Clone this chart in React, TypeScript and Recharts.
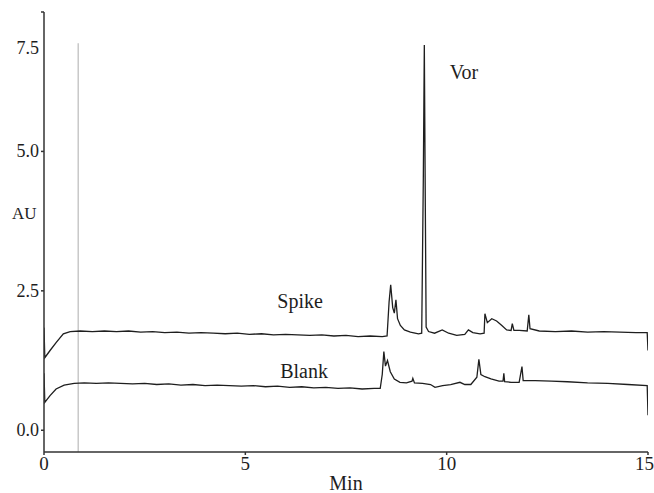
import React from 'react'
import { LineChart, Line, XAxis, YAxis, ReferenceLine, ReferenceDot } from 'recharts'

// retention time (min) and absorbance (AU)
const spikeTime = [
  0, 0.02, 0.15, 0.31, 0.48, 0.65, 0.9, 1.2, 1.5, 1.8, 2.1, 2.4, 2.7, 3.0, 3.3, 3.6, 3.9, 4.2, 4.5, 4.8,
  5.1, 5.4, 5.7, 6.0, 6.3, 6.6, 6.9, 7.2, 7.5, 7.8, 8.1, 8.4, 8.52, 8.57, 8.61, 8.66, 8.7, 8.74, 8.78,
  8.85, 8.95, 9.1, 9.3, 9.38, 9.42, 9.445, 9.47, 9.49, 9.55, 9.7, 9.89, 10.05, 10.25, 10.45, 10.54,
  10.65, 10.83, 10.93, 10.95, 11.01, 11.12, 11.24, 11.37, 11.49, 11.6, 11.63, 11.67, 11.8, 12.0, 12.04,
  12.07, 12.3, 12.7, 13.1, 13.5, 13.9, 14.3, 14.7, 14.98, 15.0,
]
const spikeAU = [
  1.84, 1.3, 1.43, 1.58, 1.73, 1.77, 1.78, 1.77, 1.78, 1.77, 1.78, 1.76, 1.77, 1.75, 1.76, 1.74, 1.75, 1.74, 1.73, 1.74,
  1.72, 1.73, 1.71, 1.72, 1.71, 1.7, 1.71, 1.69, 1.7, 1.68, 1.69, 1.68, 1.69, 2.3, 2.61, 2.2, 2.1, 2.34, 2.0,
  1.88, 1.8, 1.76, 1.73, 1.74, 4.5, 6.91, 4.0, 1.85, 1.77, 1.74, 1.8, 1.74, 1.7, 1.72, 1.8,
  1.75, 1.73, 1.74, 2.09, 1.93, 2.0, 1.96, 1.88, 1.8, 1.79, 1.91, 1.79, 1.79, 1.78, 2.07,
  1.82, 1.78, 1.77, 1.78, 1.76, 1.77, 1.76, 1.75, 1.75, 1.43,
]

const blankTime = [
  0, 0.02, 0.15, 0.3, 0.5, 0.75, 1.0, 1.3, 1.6, 1.9, 2.2, 2.5, 2.8, 3.1, 3.4, 3.7, 4.0, 4.3, 4.6, 4.9,
  5.2, 5.5, 5.8, 6.1, 6.4, 6.7, 7.0, 7.3, 7.6, 7.9, 8.2, 8.35, 8.4, 8.44, 8.48, 8.53, 8.6, 8.7, 8.84,
  9.0, 9.14, 9.16, 9.2, 9.4, 9.6, 9.71, 9.9, 10.1, 10.33, 10.45, 10.6, 10.75, 10.8, 10.85, 10.95, 11.1,
  11.3, 11.4, 11.42, 11.44, 11.6, 11.8, 11.87, 11.9, 12.2, 12.6, 13.0, 13.5, 14.0, 14.5, 14.98, 15.0,
]
const blankAU = [
  1.02, 0.5, 0.62, 0.74, 0.81, 0.84, 0.85, 0.84, 0.85, 0.84, 0.83, 0.84, 0.82, 0.83, 0.81, 0.82, 0.8, 0.81, 0.8, 0.79,
  0.8, 0.78, 0.79, 0.77, 0.78, 0.76, 0.77, 0.75, 0.76, 0.74, 0.75, 0.75, 1.0, 1.41, 1.15, 1.25, 1.05, 0.92, 0.86,
  0.85, 0.88, 0.93, 0.85, 0.84, 0.82, 0.77, 0.8, 0.82, 0.86, 0.82, 0.82, 0.95, 1.27, 1.0, 0.96, 0.92,
  0.88, 0.88, 1.02, 0.87, 0.86, 0.86, 1.14, 0.89, 0.89, 0.88, 0.87, 0.85, 0.84, 0.82, 0.8, 0.27,
]

const xTicks = [0, 5, 10, 15]
const yTicks = [0, 2.5, 5, 7.5]

const spike = spikeTime.map((t, i) => ({ t, v: spikeAU[i] }))
const blank = blankTime.map((t, i) => ({ t, v: blankAU[i] }))

const font = 'Liberation Serif'
const ink = '#1e1e1e'

function YTick(props: any) {
  const { x, y, payload } = props
  // the top label sits lower than its tick in the original figure
  const shift = payload.value === 7.5 ? 36 : 0
  return (
    <text x={x} y={y + shift} dy={6} textAnchor="end" fontSize={18} fill={ink} style={{ fontFamily: font }}>
      {payload.value.toFixed(1)}
    </text>
  )
}

const txt = (value: string) => ({ value, fontSize: 20, fill: ink, style: { fontFamily: font } })

export default function App() {
  return (
    <div style={{ background: '#fff', width: 654, height: 493, fontFamily: font }}>
      <style>{'body{margin:0} svg text{font-family:"Liberation Serif",serif !important}'}</style>
      <LineChart width={654} height={493} margin={{ top: 12, right: 6, left: 0, bottom: 0 }}>
        <XAxis
          dataKey="t"
          type="number"
          domain={[0, 15]}
          ticks={xTicks}
          height={41}
          tickSize={3}
          tickMargin={2}
          stroke="#333"
          strokeWidth={1.5}
          tick={{ fontSize: 19, fill: ink }}
          label={{ ...txt('Min'), position: 'insideBottom', offset: 3 }}
          allowDataOverflow
        />
        <XAxis xAxisId="top" orientation="top" type="number" domain={[0, 15]} height={0} tick={false} stroke="#333" strokeWidth={1.5} />
        <YAxis
          type="number"
          domain={[-0.39, 7.5]}
          ticks={yTicks}
          width={44}
          tickSize={3}
          stroke="#333"
          strokeWidth={1.5}
          tick={<YTick />}
          label={{ value: 'AU', position: 'insideLeft', offset: 12, dy: -19, fontSize: 17, fill: ink }}
          allowDataOverflow
        />
        <YAxis yAxisId="right" orientation="right" type="number" domain={[-0.39, 7.5]} ticks={[0, 2.5, 5]} width={0} tick={false} stroke="#333" strokeWidth={1.5} />
        <ReferenceLine
          segment={[{ x: 0.85, y: -0.39 }, { x: 0.85, y: 6.94 }]}
          stroke="#c8c8c8"
          strokeWidth={1.5}
        />
        <Line data={spike} dataKey="v" type="linear" stroke={ink} strokeWidth={1.3} dot={false} isAnimationActive={false} />
        <Line data={blank} dataKey="v" type="linear" stroke={ink} strokeWidth={1.3} dot={false} isAnimationActive={false} />
        <ReferenceDot x={6.36} y={2.32} r={0} fill="none" stroke="none" label={txt('Spike')} />
        <ReferenceDot x={6.46} y={1.07} r={0} fill="none" stroke="none" label={txt('Blank')} />
        <ReferenceDot x={10.43} y={6.43} r={0} fill="none" stroke="none" label={txt('Vor')} />
      </LineChart>
    </div>
  )
}
